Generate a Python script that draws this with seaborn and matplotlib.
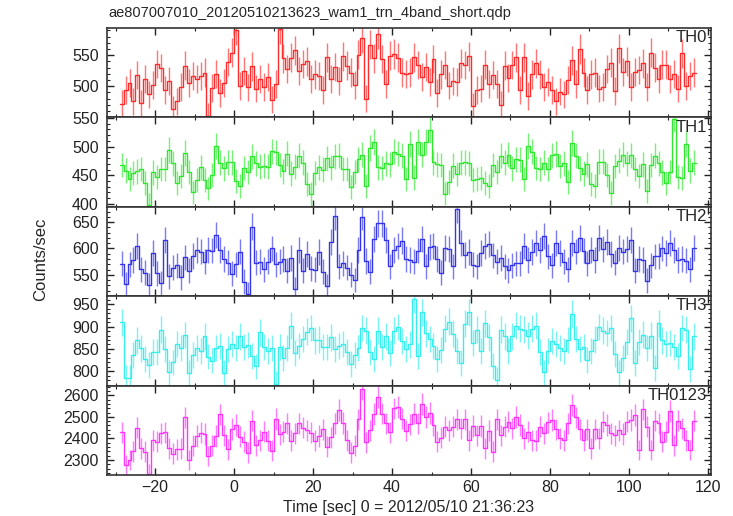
import numpy as np
import pandas as pd
import matplotlib
matplotlib.use("Agg")
import matplotlib.pyplot as plt
import seaborn as sns
from matplotlib.ticker import MultipleLocator

# -----------------------------------------
# Data (1 s bins)
# -----------------------------------------
title = "ae807007010_20120510213623_wam1_trn_4band_short.qdp"
x_label = "Time [sec] 0 = 2012/05/10 21:36:23"
y_label = "Counts/sec"

t_start, t_stop = -29.0, 117.0   # 146 one-second bins
n_bins = 146
t_mid = np.arange(t_start, t_stop, 1.0) + 0.5

th0 = [471.5, 494, 505, 476, 518, 472, 512, 487, 502, 536,
       529, 494, 508, 463, 476, 499, 533, 505, 517, 512,
       516, 522, 452, 497, 520, 489, 505, 539, 554, 591,
       500, 525, 498, 532, 496, 512, 499, 515, 478, 504,
       592, 545, 528, 546, 558, 524, 536, 540, 512, 519,
       516, 494, 547, 511, 531, 508, 548, 533, 522, 502,
       551, 578, 480, 567, 545, 584, 544, 503, 549, 552,
       546, 522, 520, 522,
       547, 534, 515, 531, 507, 544, 489, 519, 534, 501,
       508, 507, 537, 534, 548, 468, 494, 496, 535, 503,
       518, 503, 470, 533, 513, 534, 547, 494, 547, 484,
       519, 537, 519, 499, 507, 494, 476, 491, 487, 510,
       542, 503, 560, 522, 494, 519, 522, 496, 499, 528,
       538, 492, 561, 523, 540, 499, 523, 526, 537, 499,
       554, 530, 511, 535, 535, 511, 520, 496, 553, 500,
       517, 522]

th1 = [468, 458, 444, 454, 457, 461, 436, 399, 455, 447,
       461, 461, 494, 471, 436, 449, 489, 456, 420, 442,
       464, 441, 427, 450, 501, 472, 462, 473, 473, 440,
       431, 463, 456, 483, 471, 465, 467, 465, 492, 490,
       468, 457, 488, 453, 465, 484, 472, 435, 417, 454,
       464, 460, 480, 464, 483, 484, 461, 461, 429, 456,
       478, 486, 431, 498, 508, 464, 463, 471, 469, 491,
       488, 484, 444, 504,
       446, 508, 486, 508, 529, 473, 469, 468, 418, 439,
       467, 452, 472, 473, 471, 442, 443, 445, 436, 431,
       468, 456, 484, 472, 486, 462, 478, 477, 444, 501,
       491, 463, 461, 472, 461, 485, 487, 466, 471, 438,
       507, 484, 462, 453, 469, 435, 431, 474, 474, 451,
       419, 466, 475, 486, 471, 485, 461, 449, 469, 423,
       468, 484, 471, 455, 436, 456, 549, 447, 445, 504,
       458, 472]

th2 = [571, 532, 570, 578, 604, 561, 554, 531, 591, 553,
       535, 616, 547, 563, 568, 545, 583, 558, 586, 597,
       594, 575, 597, 596, 625, 597, 580, 573, 552, 570,
       594, 537, 513, 641, 573, 575, 561, 575, 600, 570,
       575, 580, 558, 582, 523, 597, 558, 590, 562, 560,
       593, 556, 529, 612, 661, 565, 572, 563, 550, 540,
       597, 660, 576, 556, 618, 648, 648, 616, 566, 597,
       604, 615, 580, 578,
       575, 596, 618, 566, 603, 605, 580, 554, 601, 599,
       566, 675, 610, 588, 593, 569, 566, 591, 605, 609,
       587, 575, 582, 566, 559, 568, 572, 572, 604, 578,
       593, 611, 597, 623, 585, 568, 610, 592, 575, 561,
       610, 594, 620, 596, 572, 597, 578, 620, 599, 613,
       590, 573, 601, 594, 599, 616, 558, 580, 578, 539,
       568, 585, 586, 600, 591, 610, 597, 578, 580, 577,
       561, 601]

th3 = [910, 785, 785, 837, 869, 851, 828, 814, 844, 844,
       893, 850, 798, 820, 861, 853, 881, 796, 837, 853,
       845, 878, 833, 824, 852, 856, 796, 849, 861, 853,
       878, 854, 859, 835, 811, 887, 854, 846, 853, 772,
       855, 829, 852, 902, 840, 857, 872, 889, 897, 869,
       871, 855, 855, 876, 849, 857, 861, 843, 816, 837,
       853, 897, 891, 843, 827, 891, 855, 878, 840, 891,
       899, 867, 849, 860,
       962, 835, 932, 885, 872, 857, 828, 848, 895, 911,
       884, 846, 818, 906, 932, 863, 893, 846, 907, 876,
       812, 781, 893, 878, 845, 878, 902, 895, 893, 880,
       895, 902, 843, 798, 845, 867, 861, 852, 845, 870,
       928, 872, 850, 854, 825, 846, 871, 899, 891, 886,
       897, 839, 798, 830, 865, 919, 818, 865, 882, 852,
       880, 807, 907, 869, 861, 863, 855, 835, 897, 893,
       805, 878]

th0123 = [2428, 2277, 2300, 2340, 2449, 2354, 2338, 2234, 2392, 2385,
          2423, 2428, 2354, 2328, 2349, 2352, 2497, 2300, 2365, 2411,
          2426, 2420, 2318, 2366, 2411, 2511, 2415, 2349, 2443, 2462,
          2408, 2385, 2334, 2482, 2369, 2392, 2431, 2388, 2343,
          2491, 2418, 2431, 2469, 2388, 2423, 2469, 2449, 2438, 2426,
          2389, 2411, 2442, 2362, 2405, 2469, 2531, 2472, 2392, 2334,
          2365, 2488, 2631, 2382, 2438, 2512, 2592, 2515, 2469, 2428,
          2539, 2546, 2492, 2435, 2465, 2515, 2469, 2559, 2500, 2519,
          2462, 2385, 2403, 2454, 2438, 2454, 2488, 2446, 2488,
          2392, 2457, 2415, 2457, 2354, 2435, 2338, 2488, 2415, 2454,
          2477, 2446, 2500, 2462, 2400, 2431, 2392, 2388, 2454, 2423,
          2474, 2485, 2442, 2400, 2392, 2469, 2554, 2497, 2442,
          2392, 2442, 2354, 2442, 2400, 2477, 2462, 2423, 2415, 2438,
          2420, 2477, 2485, 2508, 2346, 2534, 2454, 2346, 2482, 2469,
          2385, 2431, 2528, 2369, 2482, 2446, 2392, 2346, 2482]

bands = ["TH0", "TH1", "TH2", "TH3", "TH0123"]
rates = [th0, th1, th2, th3, th0123]
colors = ["#ff2a2a", "#2ee82e", "#3535e8", "#35eeee", "#ff35ff"]
ylims = [(449.5, 594), (395, 551), (509.5, 679), (768, 968), (2230, 2645)]
yticks = [[500, 550], [400, 450, 500, 550], [550, 600, 650],
          [800, 850, 900, 950], [2300, 2400, 2500, 2600]]
yminor = [10, 10, 10, 10, 20]

# -----------------------------------------
# Plot
# -----------------------------------------
sns.set_style("ticks")
plt.rcParams['font.family'] = ['Liberation Sans', 'DejaVu Sans']

fig, axes = plt.subplots(5, 1, figsize=(7.33, 5.16), dpi=100, sharex=True)
fig.subplots_adjust(left=0.146, right=0.970, top=0.9457, bottom=0.0795, hspace=0)

for ax, name, vals, col, yl, yt, ym in zip(axes, bands, rates, colors, ylims, yticks, yminor):
    df = pd.DataFrame({"time": t_mid, "rate": vals})
    # Poisson errors for 1 s bins
    ax.errorbar(df["time"], df["rate"], yerr=np.sqrt(df["rate"]), fmt="none",
                ecolor=col, elinewidth=1.0, alpha=0.65)
    sns.histplot(data=df, x="time", weights="rate", bins=n_bins,
                 binrange=(t_start, t_stop), element="step",
                 fill=False, color=col, linewidth=1.0, ax=ax)
    ax.set_ylim(*yl)
    ax.set_yticks(yt)
    ax.yaxis.set_minor_locator(MultipleLocator(ym))
    ax.set_xlabel("")
    ax.set_ylabel("")
    ax.tick_params(which="both", direction="in", top=True, right=True,
                   labelsize=11.5, colors="#222222")
    ax.tick_params(axis="y", which="major", pad=6)
    ax.tick_params(which="major", length=5, width=1)
    ax.tick_params(which="minor", length=2.5, width=0.8)
    for sp in ax.spines.values():
        sp.set_linewidth(1.2)
        sp.set_color("#333333")
    ax.text(0.993, 0.975, name, transform=ax.transAxes, ha="right", va="top",
            fontsize=12)

axes[-1].set_xlim(-32.2, 120.8)
axes[-1].set_xticks([-20, 0, 20, 40, 60, 80, 100, 120])
axes[-1].xaxis.set_minor_locator(MultipleLocator(10))
axes[-1].set_xlabel(x_label, fontsize=11.5, labelpad=4)

fig.text(0.148, 0.975, title, ha="left", va="center", fontsize=10.5)
fig.text(0.056, 0.497, y_label, rotation=90, ha="center", va="center", fontsize=12)

plt.savefig("out.png", dpi=100)
